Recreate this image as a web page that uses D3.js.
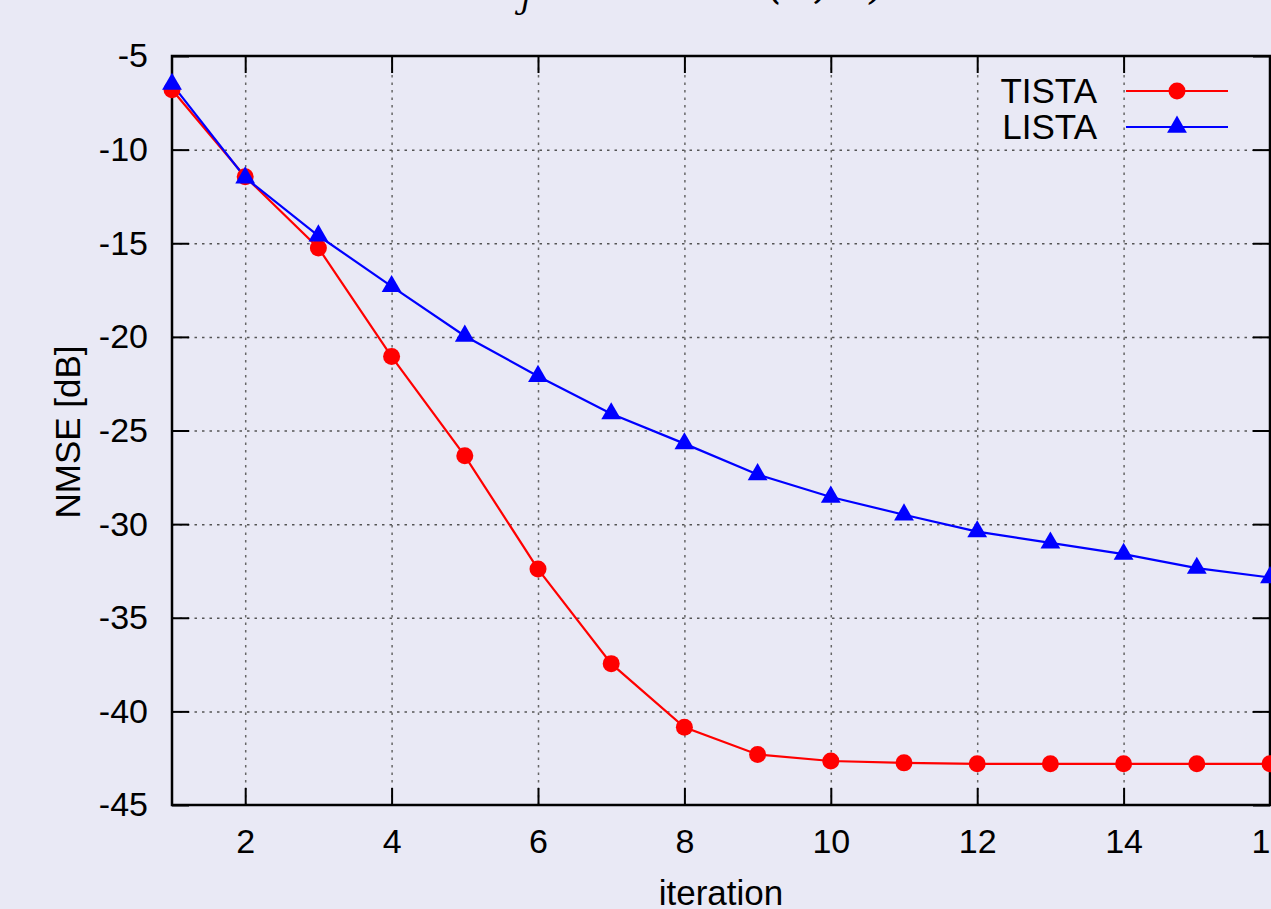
<!DOCTYPE html>
<html>
<head>
<meta charset="utf-8">
<script src="https://cdn.jsdelivr.net/npm/d3@7"></script>
<style>
  html, body { margin: 0; padding: 0; background: #e9e9f5; overflow: hidden; }
  svg { display: block; }
  .tick text { font-family: "Liberation Sans", Arial, sans-serif; font-size: 34px; fill: #000; }
  .label { font-family: "Liberation Sans", Arial, sans-serif; font-size: 35px; fill: #000; }
</style>
</head>
<body>
<div id="chart"></div>
<script>
// iterations 1..16
const iterations = [1, 2, 3, 4, 5, 6, 7, 8, 9, 10, 11, 12, 13, 14, 15, 16];
// NMSE [dB]
const tista = [-6.8, -11.45, -15.25, -21.05, -26.35, -32.4, -37.45, -40.85, -42.3, -42.65, -42.75, -42.8, -42.8, -42.8, -42.8, -42.8];
const lista = [-6.5, -11.5, -14.6, -17.3, -19.95, -22.1, -24.1, -25.7, -27.35, -28.55, -29.5, -30.4, -31.0, -31.6, -32.35, -32.85];
const xTicks = [2, 4, 6, 8, 10, 12, 14, 16];
const yTicks = [-45, -40, -35, -30, -25, -20, -15, -10, -5];

const series = [
  { name: 'TISTA', values: tista, color: '#ff0000', marker: 'circle' },
  { name: 'LISTA', values: lista, color: '#0000ff', marker: 'triangle' }
];

// Abmessungen
const W = 1271, H = 909;
const margin = { top: 56, left: 172, right: 1, bottom: 104 };
const width = W - margin.left - margin.right,
      height = H - margin.top - margin.bottom;

const svgRoot = d3.select('#chart').append('svg')
  .attr('width', W).attr('height', H);

// Titel (oben abgeschnitten wie im Original)
const title = svgRoot.append('text')
  .attr('x', 478).attr('y', -2)
  .style('font-family', '"DejaVu Serif", serif')
  .style('font-style', 'italic')
  .style('font-size', '44px');
title.append('tspan').text('x');
title.append('tspan').attr('dy', 10).attr('dx', 18).style('font-size', '32px').text('j');
title.append('tspan').attr('dy', -10).attr('dx', 40).text('∼ 𝒩');
title.append('tspan').attr('x', 768).text('(0, 1)');

const svg = svgRoot.append('g')
  .attr('transform', `translate(${margin.left},${margin.top})`);

const x = d3.scaleLinear().domain([1, 16]).range([0, width]);
const y = d3.scaleLinear().domain([-45, -5]).range([height, 0]);

// Gitterlinien
svg.append('g')
  .attr('transform', `translate(0,${height})`)
  .call(d3.axisBottom(x).tickValues(xTicks.filter(d => d < 16)).tickSize(-height).tickFormat(''))
  .call(g => g.select('.domain').remove())
  .selectAll('line')
  .attr('stroke', '#666').attr('stroke-width', 1.5).attr('stroke-dasharray', '2.5,5');

svg.append('g')
  .call(d3.axisLeft(y).tickValues(yTicks.filter(d => d > -45 && d < -5)).tickSize(-width).tickFormat(''))
  .call(g => g.select('.domain').remove())
  .selectAll('line')
  .attr('stroke', '#555').attr('stroke-width', 1.5).attr('stroke-dasharray', '2.5,5');

// Achsen mit Ticks nach innen
const tickLen = 17;
const fmt = d => String(d);
svg.append('g')
  .attr('transform', `translate(0,${height})`)
  .call(d3.axisBottom(x).tickValues(xTicks).tickSizeInner(-tickLen).tickSizeOuter(0).tickPadding(24).tickFormat(fmt))
  .call(g => g.select('.domain').remove());

svg.append('g')
  .call(d3.axisLeft(y).tickValues(yTicks).tickSizeInner(-tickLen).tickSizeOuter(0).tickPadding(24).tickFormat(fmt))
  .call(g => g.select('.domain').remove());

svg.append('g')
  .call(d3.axisTop(x).tickValues(xTicks).tickSizeInner(-tickLen).tickSizeOuter(0).tickFormat(''))
  .call(g => g.select('.domain').remove());

svg.append('g')
  .attr('transform', `translate(${width},0)`)
  .call(d3.axisRight(y).tickValues(yTicks).tickSizeInner(-tickLen).tickSizeOuter(0).tickFormat(''))
  .call(g => g.select('.domain').remove());

svg.selectAll('.tick line').filter(function () { return !this.getAttribute('stroke-dasharray'); })
  .attr('stroke', '#000').attr('stroke-width', 2);

// Rahmen
svg.append('rect')
  .attr('width', width).attr('height', height)
  .attr('fill', 'none').attr('stroke', '#000').attr('stroke-width', 2.5);

// Achsenbeschriftungen
svgRoot.append('text')
  .attr('class', 'label')
  .attr('x', margin.left + width / 2).attr('y', 905)
  .attr('text-anchor', 'middle')
  .text('iteration');

svgRoot.append('text')
  .attr('class', 'label')
  .attr('transform', 'translate(80,432) rotate(-90)')
  .attr('text-anchor', 'middle')
  .text('NMSE [dB]');

// Linien und Marker
const line = d3.line()
  .x((d, i) => x(iterations[i]))
  .y(d => y(d));

const triangle = d3.symbol().type(d3.symbolTriangle).size(170);

function drawMarker(g, s, cx, cy) {
  if (s.marker === 'circle') {
    g.append('circle').attr('cx', cx).attr('cy', cy).attr('r', 8.5).attr('fill', s.color);
  } else {
    g.append('path').attr('d', triangle).attr('transform', `translate(${cx},${cy})`).attr('fill', s.color);
  }
}

series.forEach(s => {
  svg.append('path')
    .datum(s.values)
    .attr('d', line)
    .attr('fill', 'none')
    .attr('stroke', s.color)
    .attr('stroke-width', 2.2);
});

series.forEach(s => {
  const g = svg.append('g');
  s.values.forEach((v, i) => drawMarker(g, s, x(iterations[i]), y(v)));
});

// Legende
const legend = svgRoot.append('g');
series.forEach((s, i) => {
  const ly = 91 + i * 36;
  legend.append('text')
    .attr('class', 'label')
    .attr('x', 1097).attr('y', ly + 12)
    .attr('text-anchor', 'end')
    .text(s.name);
  legend.append('line')
    .attr('x1', 1126).attr('x2', 1228).attr('y1', ly).attr('y2', ly)
    .attr('stroke', s.color).attr('stroke-width', 2.2);
  drawMarker(legend, s, 1177, ly);
});
</script>
</body>
</html>
